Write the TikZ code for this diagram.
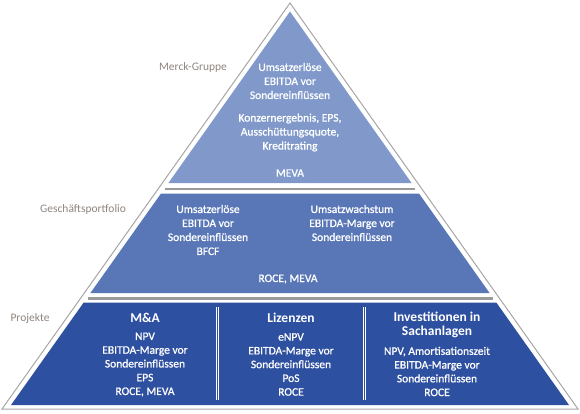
\documentclass[tikz,border=0pt]{standalone}
\usepackage{fontspec}
\setmainfont{Carlito}
\newfontfamily\medfont[FakeBold=0.9]{Carlito}
\definecolor{tierA}{HTML}{8099CA}
\definecolor{tierB}{HTML}{5977B7}
\definecolor{tierC}{HTML}{2E50A0}
\definecolor{outline}{HTML}{A6A6A6}
\definecolor{barcol}{HTML}{9A9A9A}
\definecolor{labelcol}{HTML}{8F857E}
\tikzset{
  wtext/.style={text=white, align=center, inner sep=0pt, font=\medfont\fontsize{11.5}{14}\selectfont},
  wbody/.style={text=white, align=center, inner sep=0pt, font=\medfont\fontsize{11.5}{13.75}\selectfont},
  whead/.style={text=white, align=center, inner sep=0pt, font=\fontsize{13.5}{14}\selectfont\bfseries},
  glabel/.style={text=labelcol, inner sep=0pt, font=\fontsize{11.5}{14}\selectfont},
  sepline/.style={draw=white, line width=1pt},
  barline/.style={fill=barcol}
}
\begin{document}
\begin{tikzpicture}[x=1pt,y=-1pt]
\useasboundingbox (0,0) rectangle (580,413);
% outer outline
\draw[outline, line width=1pt, line join=miter] (290,3) -- (2,409) -- (578,409) -- cycle;
% tiers
\fill[tierA] (290,11.5) -- (168.4,183) -- (411.6,183) -- cycle;
\fill[barline] (164.8,187.5) rectangle (415.2,190);
\fill[tierB] (161,193.5) -- (419,193.5) -- (489.6,293) -- (90.4,293) -- cycle;
\fill[barline] (87.5,297) rectangle (492.5,299.5);
\fill[tierC] (83.7,302.5) -- (496.3,302.5) -- (569,405) -- (11,405) -- cycle;
% separators
\draw[sepline] (216.3,307) -- (216.3,400);
\draw[sepline] (218.6,307) -- (218.6,400);
\draw[sepline] (363.3,307) -- (363.3,400);
\draw[sepline] (365.6,307) -- (365.6,400);
% labels
\node[glabel] (lab1) at (193,67) {Merck-Gruppe};
\node[glabel] (lab2) at (83,209) {Geschäftsportfolio};
\node[glabel] (lab3) at (30,318) {Projekte};
% tier 1
\node[wtext] (t1a) at (290,81) {Umsatzerlöse\\EBITDA vor\\Sondereinflüssen};
\node[wtext] (t1b) at (290,132.5) {Konzernergebnis, EPS,\\Ausschüttungsquote,\\Kreditrating};
\node[wtext] (t1c) at (290,173) {MEVA};
% tier 2
\node[wtext] (t2l) at (208,230) {Umsatzerlöse\\EBITDA vor\\Sondereinflüssen\\BFCF};
\node[wtext] (t2r) at (352,223) {Umsatzwachstum\\EBITDA-Marge vor\\Sondereinflüssen};
\node[wtext] (t2c) at (288,279) {ROCE, MEVA};
% tier 3
\node[whead] (h1) at (145,318) {M\&A};
\node[whead] (h2) at (291,318) {Lizenzen};
\node[whead] (h3) at (437,325) {Investitionen in\\Sachanlagen};
\node[wbody] (b1) at (145,364.5) {NPV\\EBITDA-Marge vor\\Sondereinflüssen\\EPS\\ROCE, MEVA};
\node[wbody] (b2) at (291,364.5) {eNPV\\EBITDA-Marge vor\\Sondereinflüssen\\PoS\\ROCE};
\node[wbody] (b3) at (437,371.5) {NPV, Amortisationszeit\\EBITDA-Marge vor\\Sondereinflüssen\\ROCE};
\end{tikzpicture}
\end{document}
